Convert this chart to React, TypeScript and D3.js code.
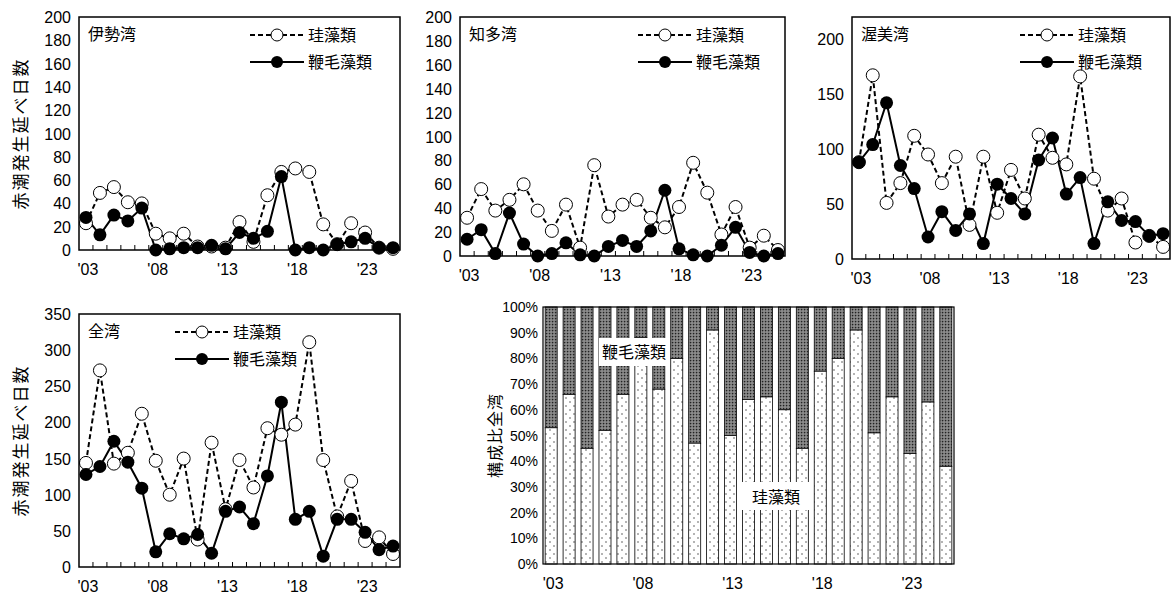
import React from 'react';
import * as d3 from 'd3';

const years = d3.range(2003, 2026);
const yearLabels = ["'03", "'08", "'13", "'18", "'23"];

const iseDiatom = [23, 49, 54, 41, 40, 14, 10, 14, 3, 3, 2, 24, 7, 47, 67, 70, 67, 22, 5, 23, 15, 2, 1];
const iseDino = [28, 13, 30, 25, 36, 0, 1, 2, 2, 4, 1, 15, 10, 16, 63, 0, 2, 0, 5, 7, 10, 2, 2];
const chitaDiatom = [32, 56, 38, 47, 60, 38, 21, 43, 7, 76, 33, 43, 47, 32, 24, 41, 78, 53, 18, 41, 7, 17, 5];
const chitaDino = [14, 22, 2, 36, 10, 0, 2, 11, 1, 0, 8, 13, 8, 21, 55, 6, 1, 0, 9, 24, 3, 0, 2];
const atsumiDiatom = [88, 167, 51, 69, 112, 95, 69, 93, 31, 93, 42, 81, 55, 113, 92, 86, 166, 73, 44, 55, 15, 21, 11];
const atsumiDino = [88, 104, 142, 85, 64, 20, 43, 26, 41, 14, 68, 55, 41, 90, 110, 59, 74, 14, 52, 35, 34, 21, 23];
const allDiatom = [144, 272, 143, 158, 212, 147, 100, 150, 38, 172, 80, 148, 110, 192, 183, 197, 311, 148, 70, 119, 36, 41, 18];
const allDino = [128, 139, 174, 145, 109, 21, 46, 39, 45, 19, 77, 83, 60, 126, 228, 66, 77, 15, 66, 66, 48, 24, 29];
const ratioDiatom = [53, 66, 45, 52, 66, 88, 68, 80, 47, 91, 50, 64, 65, 60, 45, 75, 80, 91, 51, 65, 43, 63, 38];

const JP = '"Noto Sans CJK JP", sans-serif';
const NUM = '"Liberation Sans", Arial, sans-serif';
const legendDiatom = '珪藻類';
const legendDino = '鞭毛藻類';

type P = {
  title: string; diatom: number[]; dino: number[];
  left: number; right: number; top: number; bottom: number;
  max: number; ticks: number[]; legendOffset: number; yTitle: boolean;
};

function LinePanel(p: P) {
  const x = d3.scaleBand<number>().domain(years).range([p.left, p.right]);
  const y = d3.scaleLinear().domain([0, p.max]).range([p.bottom, p.top]);
  const cx = (i: number) => (x(years[i]) as number) + x.bandwidth() / 2;
  const line = d3.line<number>().x((_d, i) => cx(i)).y(d => y(d));
  const lx = p.right - p.legendOffset;
  return (
    <g>
      {years.slice(1).map(yr => (
        <line key={yr} x1={x(yr)} x2={x(yr)} y1={p.bottom} y2={p.bottom - 5} stroke="#000" />
      ))}
      {p.ticks.map(t => (
        <text key={t} x={p.left - 8} y={y(t) + 6} textAnchor="end" fontFamily={NUM} fontSize={16}>{t}</text>
      ))}
      {yearLabels.map((l, k) => (
        <text key={l} x={cx(k * 5) + 2} y={p.bottom + 25} textAnchor="middle" fontFamily={NUM} fontSize={16}>{l}</text>
      ))}
      <path d={line(p.diatom) || ''} fill="none" stroke="#000" strokeWidth={2} strokeDasharray="5,3" />
      <path d={line(p.dino) || ''} fill="none" stroke="#000" strokeWidth={2} />
      {p.diatom.map((v, i) => <circle key={'a' + i} cx={cx(i)} cy={y(v)} r={6.5} fill="#fff" stroke="#000" />)}
      {p.dino.map((v, i) => <circle key={'b' + i} cx={cx(i)} cy={y(v)} r={6.5} fill="#000" />)}
      <rect x={p.left} y={p.top} width={p.right - p.left} height={p.bottom - p.top} fill="none" stroke="#000" strokeWidth={1.5} />
      <text x={p.left + 9} y={p.top + 23} fontFamily={JP} fontSize={16}>{p.title}</text>
      <line x1={lx} x2={lx + 54} y1={p.top + 18} y2={p.top + 18} stroke="#000" strokeWidth={2} strokeDasharray="5,3" />
      <circle cx={lx + 27} cy={p.top + 18} r={6} fill="#fff" stroke="#000" />
      <text x={lx + 58} y={p.top + 24} fontFamily={JP} fontSize={16}>{legendDiatom}</text>
      <line x1={lx} x2={lx + 54} y1={p.top + 45} y2={p.top + 45} stroke="#000" strokeWidth={2} />
      <circle cx={lx + 27} cy={p.top + 45} r={6} fill="#000" />
      <text x={lx + 58} y={p.top + 51} fontFamily={JP} fontSize={16}>{legendDino}</text>
      {p.yTitle && (
        <text transform={`translate(27,${(p.top + p.bottom) / 2}) rotate(-90)`} textAnchor="middle" fontFamily={JP} fontSize={17} letterSpacing={2}>赤潮発生延べ日数</text>
      )}
    </g>
  );
}

function BarPanel() {
  const left = 543, right = 954, top = 307, bottom = 564;
  const x = d3.scaleBand<number>().domain(years).range([left, right]).paddingInner(0.33).paddingOuter(0.12);
  const y = d3.scaleLinear().domain([0, 100]).range([bottom, top]);
  const ticks = d3.range(0, 101, 10);
  return (
    <g>
      {years.map((yr, i) => (
        <g key={yr}>
          <rect x={x(yr)} y={y(100)} width={x.bandwidth()} height={y(ratioDiatom[i]) - y(100)} fill="url(#hatch)" stroke="#000" strokeWidth={0.8} />
          <rect x={x(yr)} y={y(ratioDiatom[i])} width={x.bandwidth()} height={bottom - y(ratioDiatom[i])} fill="url(#dots)" stroke="#000" strokeWidth={0.8} />
        </g>
      ))}
      {ticks.map(t => (
        <text key={t} x={left - 5} y={y(t) + 5} textAnchor="end" fontFamily={NUM} fontSize={14}>{t}%</text>
      ))}
      {yearLabels.map((l, k) => (
        <text key={l} x={(x(years[k * 5]) as number) + x.bandwidth() / 2 + 2} y={bottom + 25} textAnchor="middle" fontFamily={NUM} fontSize={16}>{l}</text>
      ))}
      <rect x={left} y={top} width={right - left} height={bottom - top} fill="none" stroke="#000" strokeWidth={1.2} />
      <rect x={599} y={338} width={70} height={28} fill="#fff" />
      <text x={634} y={358} textAnchor="middle" fontFamily={JP} fontSize={16}>{legendDino}</text>
      <rect x={741} y={482} width={70} height={28} fill="#fff" />
      <text x={776} y={503} textAnchor="middle" fontFamily={JP} fontSize={16}>{legendDiatom}</text>
      <text transform={`translate(501,${(top + bottom) / 2}) rotate(-90)`} textAnchor="middle" fontFamily={JP} fontSize={16} letterSpacing={1}>構成比全湾</text>
    </g>
  );
}

export default function App() {
  return (
    <svg width={1173} height={594} style={{ position: 'absolute', left: 0, top: 0, background: '#fff' }}>
      <defs>
        <pattern id="hatch" width="3" height="3" patternUnits="userSpaceOnUse">
          <rect width="3" height="3" fill="#7a7a7a" />
          <rect width="1.2" height="1.2" fill="#222" />
          <rect x="1.5" y="1.5" width="1" height="1" fill="#bbb" />
        </pattern>
        <pattern id="dots" width="8" height="8" patternUnits="userSpaceOnUse">
          <rect width="8" height="8" fill="#fff" />
          <circle cx="2" cy="2" r="0.8" fill="#555" />
          <circle cx="6" cy="6" r="0.8" fill="#555" />
        </pattern>
      </defs>
      <LinePanel title="伊勢湾" diatom={iseDiatom} dino={iseDino} left={79} right={400} top={17} bottom={250} max={200} ticks={d3.range(0, 201, 20)} legendOffset={150} yTitle={true} />
      <LinePanel title="知多湾" diatom={chitaDiatom} dino={chitaDino} left={460} right={785} top={17} bottom={256} max={200} ticks={d3.range(0, 201, 20)} legendOffset={147} yTitle={false} />
      <LinePanel title="渥美湾" diatom={atsumiDiatom} dino={atsumiDino} left={852} right={1170} top={17} bottom={259} max={220} ticks={d3.range(0, 201, 50)} legendOffset={150} yTitle={false} />
      <LinePanel title="全湾" diatom={allDiatom} dino={allDino} left={79} right={400} top={314} bottom={567} max={350} ticks={d3.range(0, 351, 50)} legendOffset={225} yTitle={true} />
      <BarPanel />
    </svg>
  );
}
